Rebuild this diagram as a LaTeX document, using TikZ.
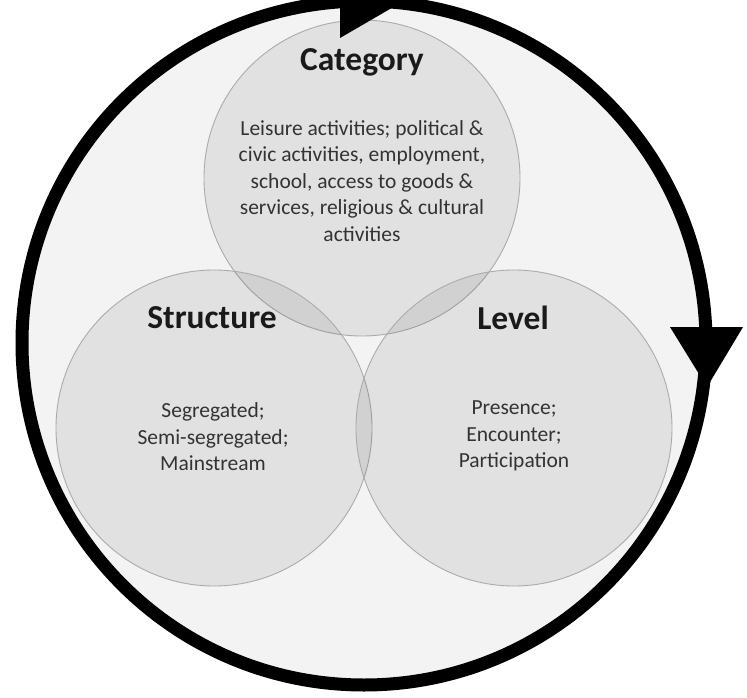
\documentclass[tikz,border=0pt]{standalone}
\usepackage{fontspec}
\setmainfont{Carlito}
\definecolor{ringfill}{HTML}{F3F3F3}
\definecolor{vennedge}{HTML}{ABABAB}
\definecolor{titletext}{HTML}{1A1A1A}
\definecolor{bodytext}{HTML}{333333}
\begin{document}
\begin{tikzpicture}[x=1pt,y=-1pt,
  venn/.style={circle, minimum size=316pt, inner sep=0pt, draw=vennedge, line width=0.9pt,
    fill=black, fill opacity=0.07},
  title/.style={font=\fontsize{33.5}{36}\selectfont\bfseries, text=titletext},
  body/.style={align=center, font=\fontsize{21.5}{26.5}\selectfont, text=bodytext},
  ring/.style={draw=black, line width=13pt},
  tip/.style={fill=black}]
\useasboundingbox (0,0) rectangle (747,698);
% light disc inside the cycle
\fill[ringfill] (364,343) circle[radius=342pt];
% three overlapping dimensions
\node[venn] (catc) at (362,178) {};
\node[venn] (strc) at (214,428) {};
\node[venn] (levc) at (514,428) {};
% titles and contents
\node[title] (cat) at (362,62) {Category};
\node[body] (catb) at (362,181) {Leisure activities; political \&\\civic activities, employment,\\school, access to goods \&\\services, religious \& cultural\\activities};
\node[title] (str) at (212,318) {Structure};
\node[body] (strb) at (213,437) {Segregated;\\Semi-segregated;\\Mainstream};
\node[title] (lev) at (513,318) {Level};
\node[body] (levb) at (514,436) {Presence;\\Encounter;\\Participation};
% the surrounding cycle with clockwise arrowheads
\draw[ring] (364,343) circle[radius=342pt];
\fill[tip] (340,-34) -- (402,2) -- (340,38) -- cycle;
\fill[tip] (670,327) -- (743,327) -- (707,387) -- cycle;
\end{tikzpicture}
\end{document}
